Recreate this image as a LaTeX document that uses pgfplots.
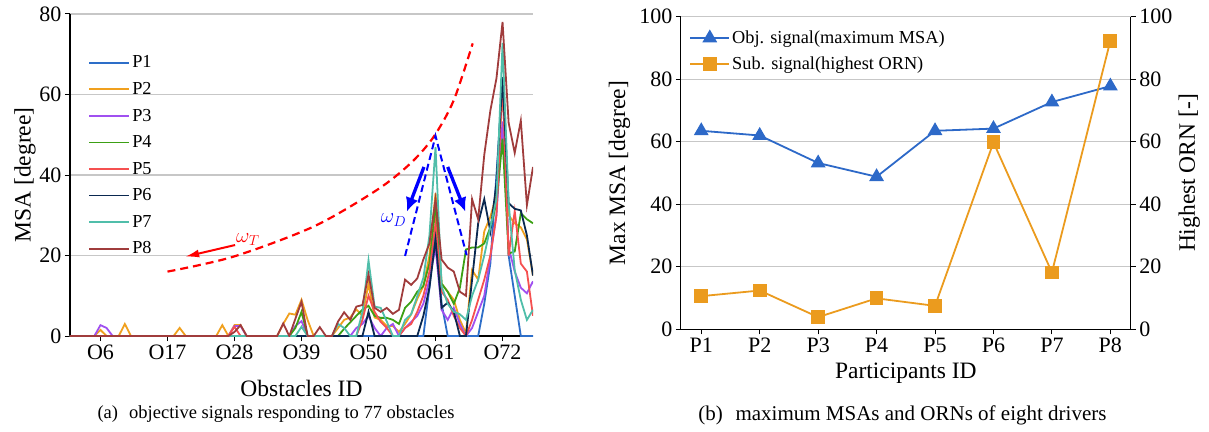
\documentclass[border=0pt]{standalone}
\usepackage{fontspec}
\setmainfont{Liberation Serif}
\usepackage{pgfplots}
\pgfplotsset{compat=1.18}
\usepackage{pgfplotstable}
\usetikzlibrary{arrows.meta}

\definecolor{cP1}{RGB}{45,110,200}
\definecolor{cP2}{RGB}{240,160,30}
\definecolor{cP3}{RGB}{160,80,240}
\definecolor{cP4}{RGB}{60,160,20}
\definecolor{cP5}{RGB}{245,80,80}
\definecolor{cP6}{RGB}{10,40,80}
\definecolor{cP7}{RGB}{80,190,170}
\definecolor{cP8}{RGB}{160,60,60}
\definecolor{objc}{RGB}{45,105,200}
\definecolor{subc}{RGB}{235,155,30}

\pgfplotstableread{
n P1 P2 P3 P4 P5 P6 P7 P8
1 0 0 0 0 0 0 0 0
2 0 0 0 0 0 0 0 0
3 0 0 0 0 0 0 0 0
4 0 0 0 0 0 0 0 0
5 0 0 0 0 0 0 0 0
6 0 1.5 2.7 0 0 0 0 0
7 0 0 2.0 0 0 0 0 0
8 0 0 0 0 0 0 0 0
9 0 0 0 0 0 0 0 0
10 0 3 0 0 0 0 0 0
11 0 0 0 0 0 0 0 0
12 0 0 0 0 0 0 0 0
13 0 0 0 0 0 0 0 0
14 0 0 0 0 0 0 0 0
15 0 0 0 0 0 0 0 0
16 0 0 0 0 0 0 0 0
17 0 0 0 0 0 0 0 0
18 0 0 0 0 0 0 0 0
19 0 2 0 0 0 0 0 0
20 0 0 0 0 0 0 0 0
21 0 0 0 0 0 0 0 0
22 0 0 0 0 0 0 0 0
23 0 0 0 0 0 0 0 0
24 0 0 0 0 0 0 0 0
25 0 0 0 0 0 0 0 0
26 0 2.7 0 0 0 0 0 0
27 0 0 0 0 0 0 0 0
28 0 2.7 2.5 0 2.3 0 0 1
29 0 2.7 2.5 0 0 0 0 2.7
30 0 0 0 0 0 0 0 0
31 0 0 0 0 0 0 0 0
32 0 0 0 0 0 0 0 0
33 0 0 0 0 0 0 0 0
34 0 0 0 0 0 0 0 0
35 0 0 0 0 0 0 0 0
36 0 3 0 0 0 0 0 3.1
37 0 5.6 0 0 0 0 0 0
38 0 5.3 2.5 2 0 0 0 4.3
39 0 9 3.7 6 0 0 2.3 8.5
40 0 4 0 0 0 0 0 0
41 0 0 0 0 0 0 0 0
42 0 0 0 0 0 0 0 2.2
43 0 0 0 0 0 0 0 0
44 0 0 0 0 0 0 0 0
45 0 2 0 0 0 0 3 3.6
46 0 4 0 1.8 0 0 2 5.9
47 0 4.6 0 3.4 0 0 0 4
48 0 6.6 2 5 0 0 0 7.3
49 0 5 3 6.5 4 0 6 7.7
50 0 13 5 7.5 10 6 18.8 15.3
51 0 4.6 2 5 6 0 7.3 7
52 0 4 0 4.5 3.5 0 7 6
53 0 2.5 2 4.5 2 0 3.6 7
54 0 2.5 3 4 0 0 0 5.5
55 0 1 0 3 0 0 0 6.5
56 0 3 2 7 2 0 4 14
57 0 5.4 3.5 8.5 3 0 5.4 12.7
58 0 9.2 5 11 6 0 9.9 14.3
59 0 12.4 8 12.4 10 5 14.4 19
60 12 20 14 18 16 12 25 23
61 27 35.5 22 32 28 24 47 34
62 8 13 6.5 13 11 7 12.4 19
63 0 11 4 11 9 8.3 8 17
64 0 9 7 8 5 6 6 16
65 0 4 3 12 2 0 5.4 11
66 0 0.7 0 21.5 0 0 4 10
67 0 16.4 2 22 4 14 10 34
68 0 14 6 22 9 28 14 29
69 8 26 10 23 14 34 20 45
70 18 29.6 19.7 27 20 26 27 56
71 40 35 30 33 30 38 34 64
72 63.5 62 53.3 49 63.5 64.3 72.8 78
73 20 30 22 20.5 20 33 33 53
74 10 28 16 21 31 31.6 16.4 45.5
75 0 27 12 30.5 18 31.2 9 53.5
76 0 24 10.6 29 16 25 4 32.5
77 0 15 13.6 28 5 15 6.5 42
}\msa

\pgfplotstableread{
x obj sub
0 63.5 10.6
1 62.0 12.4
2 53.2 3.9
3 48.8 9.9
4 63.5 7.5
5 64.2 59.8
6 72.7 18.2
7 77.8 92.3
}\summ

\pgfplotsset{
  common/.style={
    scale only axis,
    tick align=outside,
    major tick length=5pt,
    tick style={black, line width=1pt},
    axis line style={-, black, line width=1.2pt},
    tick label style={font=\fontsize{22}{26}\selectfont},
    label style={font=\fontsize{23.5}{28}\selectfont},
    /pgf/number format/assume math mode=true,
    grid style={black!22, line width=1.2pt},
  }
}

\begin{document}
\begin{tikzpicture}
\path[use as bounding box] (0,0) rectangle (1209pt,431pt);

\begin{axis}[common,
  at={(70pt,95pt)}, anchor=south west,
  width=463pt, height=322pt,
  xmin=1, xmax=77, ymin=0, ymax=80,
  xtick={6,17,28,39,50,61,72},
  xticklabels={O6,O17,O28,O39,O50,O61,O72},
  ytick={0,20,40,60,80},
  axis x line*=bottom, axis y line*=left,
  ymajorgrids,
  xlabel={Obstacles ID}, ylabel={MSA [degree]},
  xlabel style={at={(axis description cs:0.5,-0.1615)}, anchor=center},
  ylabel style={at={(axis description cs:-0.097,0.5)}, anchor=center},
  legend style={at={(0.033,0.883)}, anchor=north west, draw=none, fill=none,
    font=\fontsize{18.3}{22}\selectfont, row sep=9pt,
    nodes={inner sep=2pt},
    /tikz/every even column/.append style={column sep=9pt}},
  legend cell align=left,
  legend image code/.code={\draw[#1] (0pt,0pt) -- (40pt,0pt);},
]
\addplot[cP1, line width=1.8pt] table[x=n,y=P1]{\msa}; \addlegendentry{P1}
\addplot[cP2, line width=1.8pt] table[x=n,y=P2]{\msa}; \addlegendentry{P2}
\addplot[cP3, line width=1.8pt] table[x=n,y=P3]{\msa}; \addlegendentry{P3}
\addplot[cP4, line width=1.8pt] table[x=n,y=P4]{\msa}; \addlegendentry{P4}
\addplot[cP5, line width=1.8pt] table[x=n,y=P5]{\msa}; \addlegendentry{P5}
\addplot[cP6, line width=1.8pt] table[x=n,y=P6]{\msa}; \addlegendentry{P6}
\addplot[cP7, line width=1.8pt] table[x=n,y=P7]{\msa}; \addlegendentry{P7}
\addplot[cP8, line width=1.8pt] table[x=n,y=P8]{\msa}; \addlegendentry{P8}

\addplot[red, line width=2.2pt, dash pattern=on 8pt off 5pt, smooth, forget plot]
  coordinates {(17,16) (27.8,19.7) (41,27.2) (51.4,36.3) (56.9,42.9) (60.7,49.5) (64,58.6) (67.1,72.7)};
\draw[red, line width=2pt, -{Latex[length=14pt,width=8pt]}] (axis cs:28.1,22.6) -- (axis cs:19.9,19.7);
\node[red, font=\fontsize{20}{22}\selectfont] at (axis cs:30.2,24.0) {$\omega_T$};

\draw[blue, line width=2pt, dash pattern=on 7pt off 4pt] (axis cs:56,19.9) -- (axis cs:61,49.7) -- (axis cs:66.1,20.1);
\draw[blue, line width=3.3pt, -{Latex[length=14pt,width=13pt]}] (axis cs:59.1,42) -- (axis cs:56.3,30.9);
\draw[blue, line width=3.3pt, -{Latex[length=14pt,width=13pt]}] (axis cs:63,42) -- (axis cs:65.9,30.9);
\node[blue, font=\fontsize{20}{22}\selectfont] at (axis cs:54.1,28.8) {$\omega_D$};
\end{axis}

\begin{axis}[common,
  at={(680.8pt,101.7pt)}, anchor=south west,
  width=450pt, height=312.6pt,
  xmin=-0.35, xmax=7.35, ymin=0, ymax=100,
  xtick={0,1,2,3,4,5,6,7},
  xticklabels={P1,P2,P3,P4,P5,P6,P7,P8},
  ytick={0,20,40,60,80,100},
  axis x line*=bottom, axis y line*=left,
  ymajorgrids,
  xlabel={Participants ID}, ylabel={Max MSA [degree]},
  xlabel style={at={(axis description cs:0.5,-0.14)}, anchor=center},
  ylabel style={at={(axis description cs:-0.136,0.5)}, anchor=center},
  legend style={at={(0.012,0.968)}, anchor=north west, draw=none, fill=none,
    font=\fontsize{18.3}{22}\selectfont, row sep=8pt,
    nodes={inner sep=2pt},
    /tikz/every even column/.append style={column sep=6pt}},
  legend cell align=left,
  legend image code/.code={\draw[mark repeat=2, mark phase=2, #1] plot coordinates {(0pt,0pt) (19.5pt,0pt) (39pt,0pt)};},
]
\addplot[objc, line width=1.8pt, mark=triangle*, mark size=6.75pt, mark options={solid}] table[x=x,y=obj]{\summ};
\addlegendentry{Obj. signal(maximum MSA)}
\addlegendimage{subc, line width=1.8pt, mark=square*, mark size=6pt, mark options={solid}}
\addlegendentry{Sub. signal(highest ORN)}
\end{axis}

\begin{axis}[common,
  at={(680.8pt,101.7pt)}, anchor=south west,
  width=450pt, height=312.6pt,
  xmin=-0.35, xmax=7.35, ymin=0, ymax=100,
  ytick={0,20,40,60,80,100},
  axis y line*=right, axis x line=none,
  ylabel={Highest ORN [-]},
  ylabel style={at={(axis description cs:1.13,0.5)}, anchor=center},
]
\addplot[subc, line width=1.8pt, mark=square*, mark size=6pt, mark options={solid}] table[x=x,y=sub]{\summ};
\end{axis}

\node[font=\fontsize{18.5}{22}\selectfont] at (276pt,17pt) {(a)\hspace{0.6em}objective signals responding to 77 obstacles};
\node[font=\fontsize{21}{24}\selectfont] at (902.5pt,16pt) {(b)\hspace{0.6em}maximum MSAs and ORNs of eight drivers};
\end{tikzpicture}
\end{document}
